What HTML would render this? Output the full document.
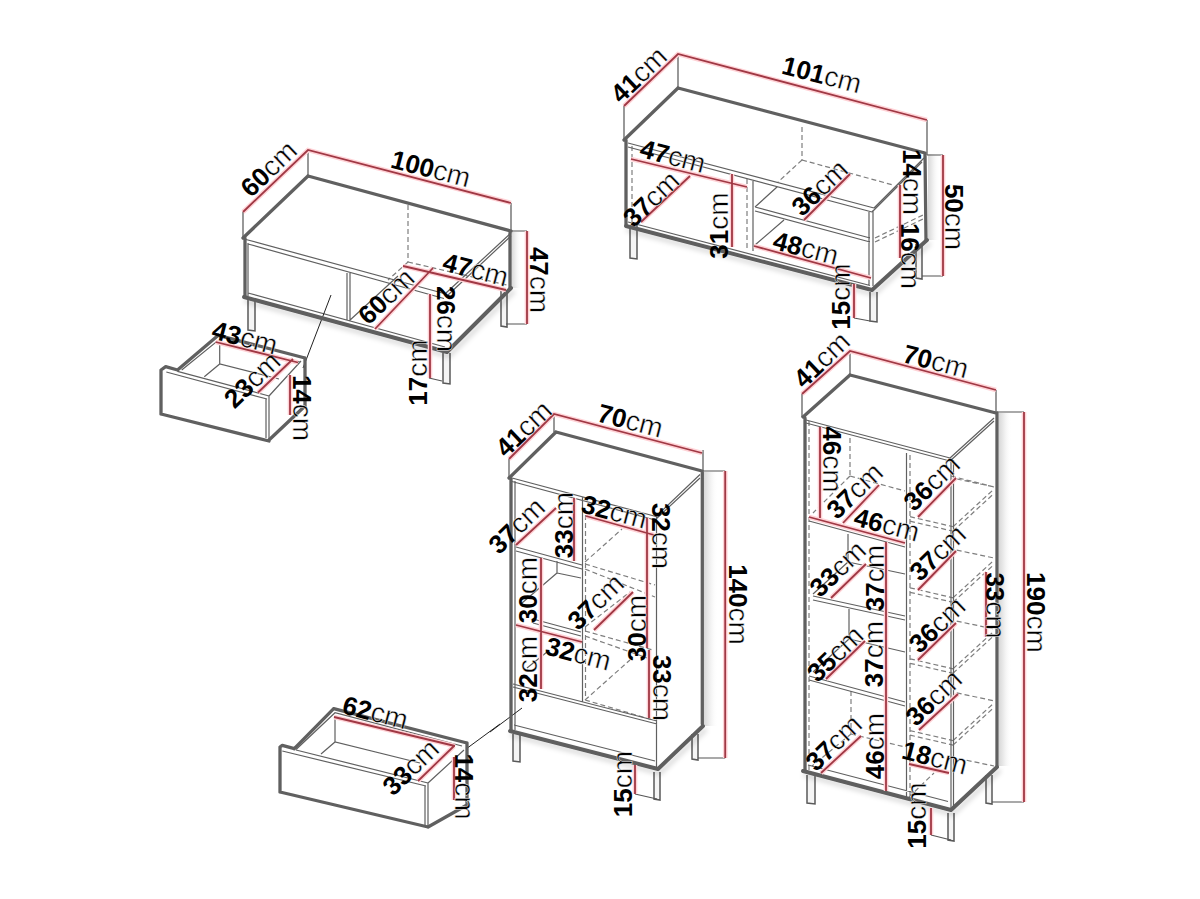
<!DOCTYPE html>
<html><head><meta charset="utf-8"><style>
html,body{margin:0;padding:0;background:#fff;width:1200px;height:899px;overflow:hidden}
svg{display:block}
.k{stroke:#606060;stroke-width:3.3;fill:none;stroke-linecap:round;stroke-linejoin:round}
.kb{stroke:#5e5e5e;stroke-width:3.9;fill:none;stroke-linecap:round;stroke-linejoin:round}
.t{stroke:#606060;stroke-width:1.2;fill:none}
.d{stroke:#7e7e7e;stroke-width:1.2;fill:none;stroke-dasharray:5 3}
.r{stroke:#a03844;stroke-width:1.8;fill:none}
.rh{stroke:#ffd2d6;stroke-width:4.6;fill:none}
.lg{stroke:#5a5a5a;stroke-width:1.5;fill:#f5f5f5}
.g{stroke:#555;stroke-width:1.2;fill:none}
.l{stroke:#222;stroke-width:1;fill:none}
text{font-family:"Liberation Sans",sans-serif;font-size:26px;fill:#000}
.u{stroke:#fff;stroke-width:0.45px;paint-order:normal;font-size:28px}
</style></head><body>
<svg width="1200" height="899" viewBox="0 0 1200 899">
<defs><filter id="ds" x="-5%" y="-20%" width="115%" height="160%"><feDropShadow dx="2" dy="4" stdDeviation="2.5" flood-color="#000" flood-opacity="0.16"/></filter><linearGradient id="sh" x1="0" x2="1" y1="0" y2="0"><stop offset="0" stop-color="#d8d8d8"/><stop offset="0.35" stop-color="#ebebeb"/><stop offset="1" stop-color="#fff" stop-opacity="0"/></linearGradient></defs>
<rect width="1200" height="899" fill="#fff"/>
<rect x="704" y="472" width="14" height="254" fill="url(#sh)"/>
<rect x="999" y="413" width="13" height="353" fill="url(#sh)"/>
<rect x="928" y="154" width="12" height="86" fill="url(#sh)"/>
<rect x="511.5" y="232" width="10" height="56" fill="url(#sh)"/>
<path class="d" d="M408,205 L408,262 M408,262 L507,285 M408,262 L388,280 M632,146 L632,222 M747,179 L747,250 M802,127 L802,160 M802,160 L893,185 M802,160 L778,182 M875,238 L923,215 M875,242 L923,219 M585.5,515 L585.5,700 M585,562 L622,529 M585,564 L655,585 M585,569 L655,597 M585,627 L630,592 M585,631 L653,650 M585,636 L653,660 M585,700 L630,660 M585,700 L653,720 M910,455 L910,797 M809,421 L809,770 M850,438 L850,476 M850,476 L813,513 M850,476 L905,491 M851,691 L851,734 M851,734 L905,747 M851,734 L812,766 M910,516.7 L953,526.7 M910,521.2 L953,531.2 M953,526.7 L993,490 M953,531.2 L993,494.4 M956.7,479 L993,486.7 M910,587.8 L953,597.8 M910,592.3 L953,602.3 M953,597.8 L993,561.1 M953,602.3 L993,565.5 M956.7,550.1 L993,557.8 M910,658.8 L953,668.8 M910,663.3 L953,673.3 M953,668.8 L993,632.1 M953,673.3 L993,636.5 M956.7,621.1 L993,628.8 M910,730.6 L953,740.6 M910,735.1 L953,745.1 M953,740.6 L993,703.9 M953,745.1 L993,708.3 M956.7,692.9 L993,700.6 M951,476 L994,487 M951,757 L994,766 M909,797 L934,773"/>
<path class="t" d="M246,239.5 L446,294 M248,244 L444,298.5 M511,233 L446,293 M511,236 L448,295 M248,243 L248,296 M248,293 L445,347 M347,273 L347,320 M350,273 L350,321 M349,321 L398,276 M177.5,371.3 L269,396 M166.3,372 L267,399 M269,396 L269,440 M266,399 L266,438 M269,396 L301,361 M181.7,370 L217,341.3 L300,362 M219.7,344.7 L219.7,364 M204.3,376.7 L219.7,364 L279,379 M628,143 L874,208 M628,147 L872,212 M874,208 L924,158 M872,212 L922,162 M873,210 L873,286 M869,212 L869,285 M753,180 L753,251 M755,207 L870,238 M755,211 L870,242 M755,207 L777,187 M755,245 L784,220 M628,222 L870,285.5 M514,725 L655,761 M512,478 L656,516.5 M512,481.5 L655,520 M656,516.5 L700,474.5 M655,520 L700,478 M515,481 L515,730 M656.5,517 L656.5,767 M582.5,497 L582.5,702 M516,547 L582,565 M516,551 L582,569 M533,619 L581,632 M533,623 L581,636 M513,684 L657,721 M513,687 L657,724 M557,561 L557,573 M557,573 L522,603 M557,573 L581,578 M547,652 L527,668 M296,750 L428,783 M282.3,751 L426,786 M428,783 L428,827 M425,786 L425,825 M428,783 L464,750 M296.3,749.3 L335,712.7 L462,746 M335,719.3 L335,742 M321,754 L335,742 L420,763 M808,765 L948,801.5 M806,420 L950,458 M806,423 L950,461 M950,458 L994,418 M950,461 L994,421 M951,459 L951,809 M953.5,460 L953.5,808 M906.5,453 L906.5,797 M809,517 L905,543 M809,521 L905,547 M813,596 L905,616 M813,600 L905,620 M809,676 L905,702 M809,680 L905,706 M848,534 L848,562 M848,562 L813,594 M848,562 L905,574 M849,609 L849,639 M849,639 L813,672 M849,639 L905,652"/>
<path class="lg" d="M248,299 L248,330 L255,331 L255,299 M501,290 L501,326 L507,327 L507,290 M443,353 L443,383 L450,384 L450,353 M630,225 L630,258 L637,259 L637,225 M870,292 L870,321 L877,322 L877,292 M916,244 L916,278 L922,279 L922,244 M513,734 L513,761 L520,762 L520,734 M654,772 L654,799 L660,800 L660,772 M692,734 L692,759 L698,760 L698,734 M807,775 L807,803 L815,804 L815,775 M948,813 L948,840 L954,841 L954,813 M986,775 L986,803 L992,804 L992,775"/>
<path class="g" d="M243,212 L243,238 M308,150 L308,176 M511,203 L511,231 M511,231 L527,231 M506,324 L527,324 M429,378 L442,381 M624,106 L624,140 M678,54 L678,88 M927,120 L927,155 M927,155 L943,155 M922,276 L943,276 M854,318 L870,321 M509,459 L509,477 M554,414 L554,432 M703,450 L703,471 M703,471 L725.2,471 M698,758 L725.2,758 M635,794 L657,799 M802,394 L802,417 M850,351 L850,375 M996,390 L996,412 M997,412 L1024,412 M992,802 L1024,802 M931,835 L951,840"/>
<path class="l" d="M331,295 L303,368 M490,732 L522,708 M500,724 L466,749"/>
<path class="k" d="M308,176 L511,231 M308,176 L243,238 M245,238 L245,297 M510,232 L510,289 M161,414 L161,370 L165.7,366.7 L177.5,370 M161,414 L269,441 M177.5,370 L218.3,335.3 M218.3,335.3 L305,358 M305,358 L305,406 M305,406 L269,440 M678,88 L925,153 M678,88 L624,140 M626,140 L626,225 M925,154 L926,240 M556,432 L702,471 M556,432 L509,478 M511,479 L511,730 M702.3,472 L702.3,724 M280,792 L280,747 L282.3,745.3 L294.3,748.7 M294.3,748.7 L333.7,708.7 M333.7,708.7 L467,743 M467,743 L467,805 M467,805 L428,827 M280,792 L428,827 M850,375 L996,413 M850,375 L803,417 M805,418 L805,770 M997,413 L997,766"/>
<g filter="url(#ds)"><path class="kb" d="M511,288 L447,352 M244,297 L447,352 M626,226 L872,290 M927,240 L872,290 M510,731 L658,769 M658,769 L703,726 M803,771 L951,810 M951,810 L997,767"/></g>
<path class="rh" d="M243,212 L308,150 L511,203 M403,266 L506,290 M375,329 L433,268 M430,294 L430,378 M527,231 L527,324 M215.7,342 L298,362.5 M258,392.5 L293,359 M290,375 L290,415 M624,106 L678,54 L927,120 M631,159 L747,187 M641,222 L690,176 M732,174 L732,247 M804,220 L850,174 M754,246 L871,278 M900,185 L900,258 M943,155 L943,276 M854,284 L854,318 M509,459 L554,414 L702,453 M516,545 L556,508 M574,498 L574,561 M586,516 L654,535 M647,518 L647,648 M649,650 L649,718 M541,558 L541,689 M516,625 L582,642 M594,630 L633,592 M725.2,471 L725.2,758 M635,765 L635,794 M334,717 L455,746 M418,781 L454,746 M454,757 L454,800 M802,394 L850,351 L996,390 M820,427 L820,518 M843,523 L879,485 M918,517 L956,478 M809,517 L905,543 M886,542 L886,791 M831,598 L866,564 M918,590 L956,551 M918,660 L956,623 M826,679 L865,641 M986,572 L986,637 M821,773 L861,736 M919,730 L958,694 M909,764 L949,773 M931,808 L931,835 M1024,412 L1024,802"/>
<path class="r" d="M243,212 L308,150 L511,203 M403,266 L506,290 M375,329 L433,268 M430,294 L430,378 M527,231 L527,324 M215.7,342 L298,362.5 M258,392.5 L293,359 M290,375 L290,415 M624,106 L678,54 L927,120 M631,159 L747,187 M641,222 L690,176 M732,174 L732,247 M804,220 L850,174 M754,246 L871,278 M900,185 L900,258 M943,155 L943,276 M854,284 L854,318 M509,459 L554,414 L702,453 M516,545 L556,508 M574,498 L574,561 M586,516 L654,535 M647,518 L647,648 M649,650 L649,718 M541,558 L541,689 M516,625 L582,642 M594,630 L633,592 M725.2,471 L725.2,758 M635,765 L635,794 M334,717 L455,746 M418,781 L454,746 M454,757 L454,800 M802,394 L850,351 L996,390 M820,427 L820,518 M843,523 L879,485 M918,517 L956,478 M809,517 L905,543 M886,542 L886,791 M831,598 L866,564 M918,590 L956,551 M918,660 L956,623 M826,679 L865,641 M986,572 L986,637 M821,773 L861,736 M919,730 L958,694 M909,764 L949,773 M931,808 L931,835 M1024,412 L1024,802"/>
<text transform="translate(268.6,168.8) rotate(-43.6)" text-anchor="middle" y="9.3"><tspan font-weight="bold">60</tspan><tspan class="u">cm</tspan></text>
<text transform="translate(431,168.5) rotate(14.7)" text-anchor="middle" y="9.3"><tspan font-weight="bold">100</tspan><tspan class="u">cm</tspan></text>
<text transform="translate(475.6,269.5) rotate(14.7)" text-anchor="middle" y="9.3"><tspan font-weight="bold">47</tspan><tspan class="u">cm</tspan></text>
<text transform="translate(386.1,296.5) rotate(-43.6)" text-anchor="middle" y="9.3"><tspan font-weight="bold">60</tspan><tspan class="u">cm</tspan></text>
<text transform="translate(446,319) rotate(90)" text-anchor="middle" y="9.3"><tspan font-weight="bold">26</tspan><tspan class="u">cm</tspan></text>
<text transform="translate(417.5,372.5) rotate(-90)" text-anchor="middle" y="9.3"><tspan font-weight="bold">17</tspan><tspan class="u">cm</tspan></text>
<text transform="translate(539,280) rotate(90)" text-anchor="middle" y="9.3"><tspan font-weight="bold">47</tspan><tspan class="u">cm</tspan></text>
<text transform="translate(245,337.5) rotate(14.7)" text-anchor="middle" y="9.3"><tspan font-weight="bold">43</tspan><tspan class="u">cm</tspan></text>
<text transform="translate(252.1,379.8) rotate(-43.6)" text-anchor="middle" y="9.3"><tspan font-weight="bold">23</tspan><tspan class="u">cm</tspan></text>
<text transform="translate(302,408) rotate(90)" text-anchor="middle" y="9.3"><tspan font-weight="bold">14</tspan><tspan class="u">cm</tspan></text>
<text transform="translate(638.6,74.8) rotate(-43.6)" text-anchor="middle" y="9.3"><tspan font-weight="bold">41</tspan><tspan class="u">cm</tspan></text>
<text transform="translate(822,74.5) rotate(14.7)" text-anchor="middle" y="9.3"><tspan font-weight="bold">101</tspan><tspan class="u">cm</tspan></text>
<text transform="translate(673,156) rotate(14.7)" text-anchor="middle" y="9.3"><tspan font-weight="bold">47</tspan><tspan class="u">cm</tspan></text>
<text transform="translate(651,199) rotate(-43.6)" text-anchor="middle" y="9.3"><tspan font-weight="bold">37</tspan><tspan class="u">cm</tspan></text>
<text transform="translate(719,225.5) rotate(-90)" text-anchor="middle" y="9.3"><tspan font-weight="bold">31</tspan><tspan class="u">cm</tspan></text>
<text transform="translate(819.6,187.8) rotate(-43.6)" text-anchor="middle" y="9.3"><tspan font-weight="bold">36</tspan><tspan class="u">cm</tspan></text>
<text transform="translate(806,248) rotate(14.7)" text-anchor="middle" y="9.3"><tspan font-weight="bold">48</tspan><tspan class="u">cm</tspan></text>
<text transform="translate(912,182) rotate(90)" text-anchor="middle" y="9.3"><tspan font-weight="bold">14</tspan><tspan class="u">cm</tspan></text>
<text transform="translate(910.5,256) rotate(90)" text-anchor="middle" y="9.3"><tspan font-weight="bold">16</tspan><tspan class="u">cm</tspan></text>
<text transform="translate(954,217) rotate(90)" text-anchor="middle" y="9.3"><tspan font-weight="bold">50</tspan><tspan class="u">cm</tspan></text>
<text transform="translate(841,296.5) rotate(-90)" text-anchor="middle" y="9.3"><tspan font-weight="bold">15</tspan><tspan class="u">cm</tspan></text>
<text transform="translate(523.6,428.8) rotate(-43.6)" text-anchor="middle" y="9.3"><tspan font-weight="bold">41</tspan><tspan class="u">cm</tspan></text>
<text transform="translate(630.5,420.5) rotate(14.7)" text-anchor="middle" y="9.3"><tspan font-weight="bold">70</tspan><tspan class="u">cm</tspan></text>
<text transform="translate(516.6,525.8) rotate(-43.6)" text-anchor="middle" y="9.3"><tspan font-weight="bold">37</tspan><tspan class="u">cm</tspan></text>
<text transform="translate(563.5,525) rotate(-90)" text-anchor="middle" y="9.3"><tspan font-weight="bold">33</tspan><tspan class="u">cm</tspan></text>
<text transform="translate(614.5,511.5) rotate(14.7)" text-anchor="middle" y="9.3"><tspan font-weight="bold">32</tspan><tspan class="u">cm</tspan></text>
<text transform="translate(661.5,536) rotate(90)" text-anchor="middle" y="9.3"><tspan font-weight="bold">32</tspan><tspan class="u">cm</tspan></text>
<text transform="translate(527.5,590) rotate(-90)" text-anchor="middle" y="9.3"><tspan font-weight="bold">30</tspan><tspan class="u">cm</tspan></text>
<text transform="translate(528,669) rotate(-90)" text-anchor="middle" y="9.3"><tspan font-weight="bold">32</tspan><tspan class="u">cm</tspan></text>
<text transform="translate(595.6,601.8) rotate(-43.6)" text-anchor="middle" y="9.3"><tspan font-weight="bold">37</tspan><tspan class="u">cm</tspan></text>
<text transform="translate(578.5,653.5) rotate(14.7)" text-anchor="middle" y="9.3"><tspan font-weight="bold">32</tspan><tspan class="u">cm</tspan></text>
<text transform="translate(636.5,628) rotate(-90)" text-anchor="middle" y="9.3"><tspan font-weight="bold">30</tspan><tspan class="u">cm</tspan></text>
<text transform="translate(662,688) rotate(90)" text-anchor="middle" y="9.3"><tspan font-weight="bold">33</tspan><tspan class="u">cm</tspan></text>
<text transform="translate(738.4,604.5) rotate(90)" text-anchor="middle" y="9.3"><tspan font-weight="bold">140</tspan><tspan class="u">cm</tspan></text>
<text transform="translate(622.5,784) rotate(-90)" text-anchor="middle" y="9.3"><tspan font-weight="bold">15</tspan><tspan class="u">cm</tspan></text>
<text transform="translate(375.4,712.3) rotate(14.7)" text-anchor="middle" y="9.3"><tspan font-weight="bold">62</tspan><tspan class="u">cm</tspan></text>
<text transform="translate(410.6,767.3) rotate(-43.6)" text-anchor="middle" y="9.3"><tspan font-weight="bold">33</tspan><tspan class="u">cm</tspan></text>
<text transform="translate(464.5,786.5) rotate(90)" text-anchor="middle" y="9.3"><tspan font-weight="bold">14</tspan><tspan class="u">cm</tspan></text>
<text transform="translate(821.6,359.8) rotate(-43.6)" text-anchor="middle" y="9.3"><tspan font-weight="bold">41</tspan><tspan class="u">cm</tspan></text>
<text transform="translate(936,361.2) rotate(14.7)" text-anchor="middle" y="9.3"><tspan font-weight="bold">70</tspan><tspan class="u">cm</tspan></text>
<text transform="translate(832.6,459.4) rotate(90)" text-anchor="middle" y="9.3"><tspan font-weight="bold">46</tspan><tspan class="u">cm</tspan></text>
<text transform="translate(854.6,490.8) rotate(-43.6)" text-anchor="middle" y="9.3"><tspan font-weight="bold">37</tspan><tspan class="u">cm</tspan></text>
<text transform="translate(931.6,482.8) rotate(-43.6)" text-anchor="middle" y="9.3"><tspan font-weight="bold">36</tspan><tspan class="u">cm</tspan></text>
<text transform="translate(887,524.5) rotate(14.7)" text-anchor="middle" y="9.3"><tspan font-weight="bold">46</tspan><tspan class="u">cm</tspan></text>
<text transform="translate(837.6,568.8) rotate(-43.6)" text-anchor="middle" y="9.3"><tspan font-weight="bold">33</tspan><tspan class="u">cm</tspan></text>
<text transform="translate(874.4,578) rotate(-90)" text-anchor="middle" y="9.3"><tspan font-weight="bold">37</tspan><tspan class="u">cm</tspan></text>
<text transform="translate(937.6,552.8) rotate(-43.6)" text-anchor="middle" y="9.3"><tspan font-weight="bold">37</tspan><tspan class="u">cm</tspan></text>
<text transform="translate(995,605.5) rotate(90)" text-anchor="middle" y="9.3"><tspan font-weight="bold">33</tspan><tspan class="u">cm</tspan></text>
<text transform="translate(1036,612.4) rotate(90)" text-anchor="middle" y="9.3"><tspan font-weight="bold">190</tspan><tspan class="u">cm</tspan></text>
<text transform="translate(835.1,653.8) rotate(-43.6)" text-anchor="middle" y="9.3"><tspan font-weight="bold">35</tspan><tspan class="u">cm</tspan></text>
<text transform="translate(874,654) rotate(-90)" text-anchor="middle" y="9.3"><tspan font-weight="bold">37</tspan><tspan class="u">cm</tspan></text>
<text transform="translate(937.1,624.8) rotate(-43.6)" text-anchor="middle" y="9.3"><tspan font-weight="bold">36</tspan><tspan class="u">cm</tspan></text>
<text transform="translate(833.6,742.8) rotate(-43.6)" text-anchor="middle" y="9.3"><tspan font-weight="bold">37</tspan><tspan class="u">cm</tspan></text>
<text transform="translate(874.4,746) rotate(-90)" text-anchor="middle" y="9.3"><tspan font-weight="bold">46</tspan><tspan class="u">cm</tspan></text>
<text transform="translate(933.6,697.8) rotate(-43.6)" text-anchor="middle" y="9.3"><tspan font-weight="bold">36</tspan><tspan class="u">cm</tspan></text>
<text transform="translate(935,757.5) rotate(14.7)" text-anchor="middle" y="9.3"><tspan font-weight="bold">18</tspan><tspan class="u">cm</tspan></text>
<text transform="translate(917,815.5) rotate(-90)" text-anchor="middle" y="9.3"><tspan font-weight="bold">15</tspan><tspan class="u">cm</tspan></text>
</svg></body></html>
